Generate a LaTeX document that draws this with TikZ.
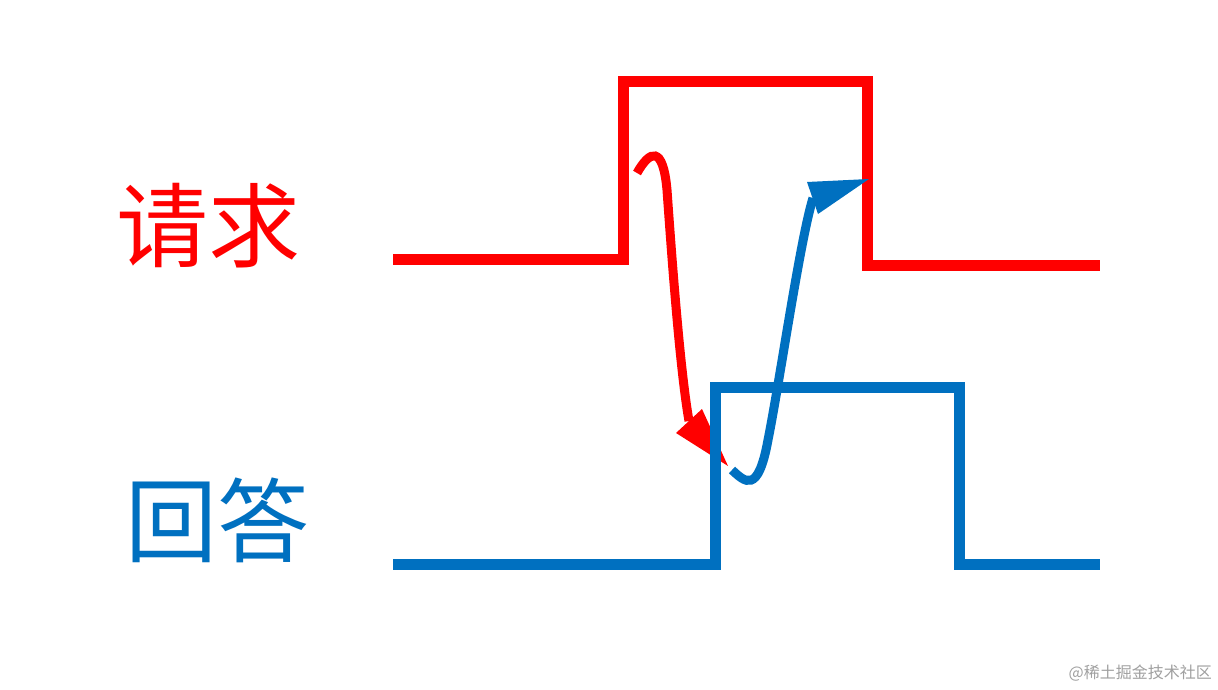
\documentclass[tikz,border=0pt]{standalone}
\usepackage{fontspec}
\newfontfamily\cjk{Noto Sans CJK SC}
\definecolor{sigred}{HTML}{FF0000}
\definecolor{sigblue}{HTML}{0070C0}
\definecolor{wmgray}{HTML}{A0A0A0}
\begin{document}
\begin{tikzpicture}[x=1pt,y=-1pt,
  signal/.style={line width=11pt,line join=miter},
  flow/.style={line width=9pt,line cap=butt},
  label/.style={font=\cjk\fontsize{92}{92}\selectfont,inner sep=0pt}]
\useasboundingbox[fill=white] (0,0) rectangle (1218,690);
% red arrow (under the answer signal)
\draw[flow,sigred] (637,173) .. controls (650,150) and (663,145) .. (667,190) .. controls (672,260) and (680,370) .. (689,421);
\fill[sigred] (728,466) -- (676,433) -- (702,409) -- cycle;
% request signal
\draw[signal,sigred] (393,259) -- (623,259) -- (623,81.5) -- (867,81.5) -- (867,265) -- (1100,265);
% answer signal
\draw[signal,sigblue] (393,564) -- (715.5,564) -- (715.5,387) -- (959,387) -- (959,564) -- (1100,564);
% blue arrow
\draw[flow,sigblue] (732,470) .. controls (745,482) and (758,495) .. (768,440) .. controls (780,380) and (800,240) .. (813,198);
\fill[sigblue] (869,179) -- (807,182) -- (818,214) -- cycle;
% labels
\node[label,text=sigred] (req) at (208,226) {请求};
\node[label,text=sigblue] (ans) at (217,520) {回答};
\node[font=\cjk\fontsize{16}{16}\selectfont,text=wmgray,anchor=east,inner sep=0pt] (wm) at (1212,673) {@稀土掘金技术社区};
\end{tikzpicture}
\end{document}
